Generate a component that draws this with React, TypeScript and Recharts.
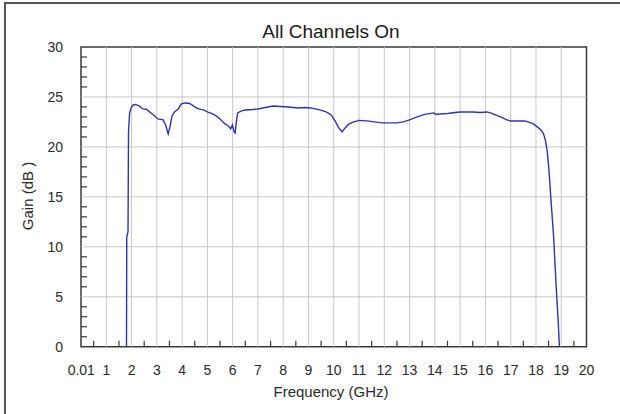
import React from 'react';
import { LineChart, Line, XAxis, YAxis, ReferenceLine, ReferenceArea } from 'recharts';

// Frequency (GHz) of each measured point
const freqGHz = [
  1.8, 1.81, 1.86, 1.88, 1.92, 1.98, 2.06, 2.15, 2.3, 2.45, 2.6, 2.72, 2.87, 3.05, 3.25, 3.35, 3.45, 3.52,
  3.6, 3.7, 3.85, 3.97, 4.1, 4.3, 4.5, 4.65, 4.85, 5.0, 5.2, 5.35, 5.5, 5.7, 5.83, 5.92, 5.99, 6.06, 6.1,
  6.15, 6.2, 6.35, 6.5, 6.8, 7.0, 7.3, 7.6, 7.9, 8.2, 8.6, 8.9, 9.1, 9.45, 9.7, 9.9, 10.05, 10.2, 10.33,
  10.45, 10.6, 10.8, 11.0, 11.3, 11.6, 11.9, 12.2, 12.5, 12.75, 13.0, 13.3, 13.6, 13.85, 13.95, 14.05,
  14.2, 14.5, 14.8, 15.0, 15.5, 15.8, 16.05, 16.2, 16.4, 16.6, 16.85, 17.0, 17.3, 17.55, 17.75, 17.9,
  18.05, 18.2, 18.3, 18.38, 18.45, 18.52, 18.6, 18.7, 18.8, 18.87, 18.93,
];

// Gain (dB) at each frequency
const gainDb = [
  0, 11.0, 11.5, 21.5, 23.3, 23.9, 24.2, 24.25, 24.1, 23.8, 23.75, 23.5, 23.2, 22.8, 22.7, 22.2, 21.3, 22.0,
  23.1, 23.5, 23.8, 24.3, 24.4, 24.35, 24.0, 23.8, 23.7, 23.5, 23.3, 23.1, 22.8, 22.3, 22.1, 21.8, 22.2, 21.5, 21.4,
  22.6, 23.4, 23.6, 23.7, 23.75, 23.8, 23.95, 24.1, 24.05, 24.0, 23.9, 23.95, 23.9, 23.7, 23.5, 23.2, 22.6, 21.9, 21.5,
  21.9, 22.3, 22.5, 22.65, 22.6, 22.5, 22.4, 22.4, 22.4, 22.5, 22.7, 23.0, 23.25, 23.35, 23.4, 23.25,
  23.3, 23.35, 23.45, 23.5, 23.5, 23.45, 23.5, 23.4, 23.2, 23.0, 22.7, 22.6, 22.6, 22.6, 22.45, 22.3,
  22.0, 21.7, 21.3, 20.6, 19.5, 17.5, 14.5, 11.0, 6.0, 3.0, 0,
];

const xLabelTicks = [0.01, 1, 2, 3, 4, 5, 6, 7, 8, 9, 10, 11, 12, 13, 14, 15, 16, 17, 18, 19, 20];
const xMinorTicks = [0.5, 1.5, 2.5, 3.5, 4.5, 5.5, 6.5, 7.5, 8.5, 9.5, 10.5, 11.5, 12.5, 13.5, 14.5, 15.5, 16.5, 17.5, 18.5, 19.5];
const xGrid = [1, 2, 3, 4, 5, 6, 7, 8, 9, 10, 11, 12, 13, 14, 15, 16, 17, 18, 19];
const yLabelTicks = [0, 5, 10, 15, 20, 25, 30];
const yMinorTicks = [1, 2, 3, 4, 6, 7, 8, 9, 11, 12, 13, 14, 16, 17, 18, 19, 21, 22, 23, 24, 26, 27, 28, 29];
const yGrid = [5, 10, 15, 20, 25];

const title = 'All Channels On';
const xTitle = 'Frequency (GHz)';
const yTitle = 'Gain (dB )';

const data = freqGHz.map((f, i) => ({ f, g: gainDb[i] }));
const xTicks = [...xLabelTicks, ...xMinorTicks].sort((a, b) => a - b);
const yTicks = [...yLabelTicks, ...yMinorTicks].sort((a, b) => a - b);

const FONT = '"Liberation Sans", Arial, sans-serif';
const TEXT = '#2a2a2a';
const FRAME = '#3a3a3a';
const TM = 18;

const XTick = (props: any) => {
  const { x, y, payload } = props;
  const v = payload.value;
  if (xMinorTicks.includes(v)) {
    const base = y - TM;
    return <line x1={x} x2={x} y1={base} y2={base - 6} stroke={FRAME} strokeWidth={1.2} />;
  }
  return (
    <text x={x} y={y} dy="0.71em" textAnchor="middle" fontSize={14} fontFamily={FONT} fill={TEXT}>
      {String(v)}
    </text>
  );
};

const YTick = (props: any) => {
  const { x, y, payload } = props;
  const v = payload.value;
  if (yMinorTicks.includes(v)) {
    const base = x + TM;
    return <line x1={base} x2={base + 6} y1={y} y2={y} stroke={FRAME} strokeWidth={1.2} />;
  }
  return (
    <text x={x} y={y} dy="0.36em" textAnchor="end" fontSize={14} fontFamily={FONT} fill={TEXT}>
      {String(v)}
    </text>
  );
};

export default function App() {
  return (
    <div style={{ position: 'absolute', left: 0, top: 0, width: 620, height: 414, background: '#fff', overflow: 'hidden' }}>
      <div
        style={{
          position: 'absolute',
          left: 4,
          top: 2,
          width: 616,
          height: 412,
          borderLeft: '2px solid #555',
          borderTop: '2px solid #555',
          boxSizing: 'border-box',
        }}
      />
      <LineChart width={620} height={414} data={data} margin={{ top: 47, right: 33.5, bottom: 7.3, left: 0 }}>
        <XAxis
          type="number"
          dataKey="f"
          domain={[0, 20]}
          ticks={xTicks}
          interval={0}
          tick={XTick}
          tickSize={0}
          tickMargin={TM}
          axisLine={false}
          tickLine={false}
          height={60}
          allowDecimals
        />
        <YAxis
          type="number"
          domain={[0, 30]}
          ticks={yTicks}
          interval={0}
          tick={YTick}
          tickSize={0}
          tickMargin={TM}
          axisLine={false}
          tickLine={false}
          width={81}
        />
        {xGrid.map((v) => (
          <ReferenceLine key={'gx' + v} x={v} stroke="#c8c8c8" strokeWidth={1} />
        ))}
        {yGrid.map((v) => (
          <ReferenceLine key={'gy' + v} y={v} stroke="#c8c8c8" strokeWidth={1} />
        ))}
        <ReferenceArea x1={0} x2={20} y1={0} y2={30} fill="none" fillOpacity={0} stroke={FRAME} strokeWidth={1.5} />
        <Line
          type="linear"
          dataKey="g"
          stroke="#3232b4"
          strokeWidth={1.4}
          dot={false}
          isAnimationActive={false}
        />
      </LineChart>
      <div
        style={{
          position: 'absolute',
          left: 331,
          top: 32,
          transform: 'translate(-50%, -50%)',
          fontFamily: FONT,
          fontSize: 19,
          color: '#1a1a1a',
          whiteSpace: 'nowrap',
        }}
      >
        {title}
      </div>
      <div
        style={{
          position: 'absolute',
          left: 331,
          top: 391,
          transform: 'translate(-50%, -50%)',
          fontFamily: FONT,
          fontSize: 15,
          color: TEXT,
          whiteSpace: 'nowrap',
        }}
      >
        {xTitle}
      </div>
      <div
        style={{
          position: 'absolute',
          left: 27,
          top: 196,
          transform: 'translate(-50%, -50%) rotate(-90deg)',
          fontFamily: FONT,
          fontSize: 15,
          color: TEXT,
          whiteSpace: 'nowrap',
        }}
      >
        {yTitle}
      </div>
    </div>
  );
}
